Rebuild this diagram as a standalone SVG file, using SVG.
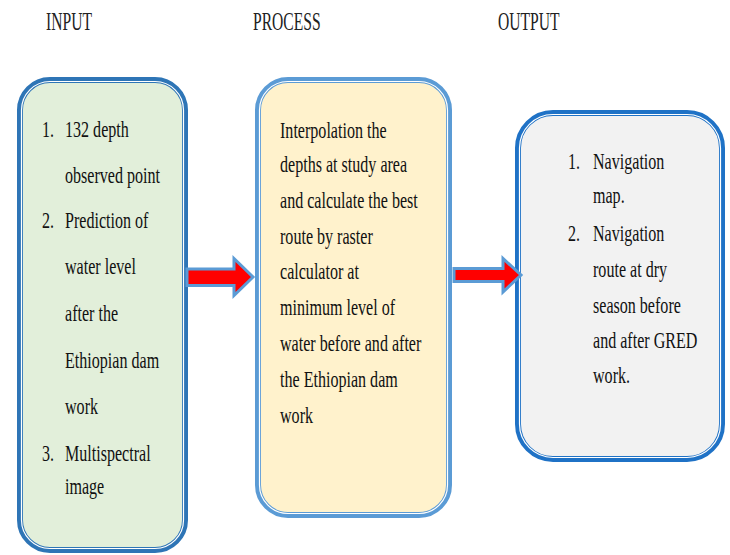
<svg xmlns="http://www.w3.org/2000/svg" width="730" height="555" viewBox="0 0 730 555">
<style>
.t{font-family:"Liberation Serif","Times New Roman",serif;font-size:24px;fill:#111}
.h{font-family:"Liberation Serif","Times New Roman",serif;font-size:26px;fill:#222}
.arr{fill:#FF0000;stroke:#5B9BD5;stroke-width:3;stroke-linejoin:miter}
.in{fill:none;stroke:#fff;stroke-width:1.2}
</style>
<rect width="730" height="555" fill="#fff"/>
<g id="titles">
<text class="h" transform="translate(46,30) scale(0.6,1)">INPUT</text>
<text class="h" transform="translate(253,30) scale(0.6,1)">PROCESS</text>
<text class="h" transform="translate(498,30) scale(0.6,1)">OUTPUT</text>
</g>
<g id="input">
<rect x="20" y="80" width="165" height="470" rx="30" fill="#E2EFDA" stroke="#2E75B6" stroke-width="6"/>
<rect x="21.5" y="81.5" width="162" height="467" rx="28.5" class="in"/>
<g class="t">
<text transform="translate(42,137) scale(0.67,1)">1.</text>
<text transform="translate(65,137) scale(0.67,1)">132 depth</text>
<text transform="translate(65,183) scale(0.67,1)">observed point</text>
<text transform="translate(42,228) scale(0.67,1)">2.</text>
<text transform="translate(65,228) scale(0.67,1)">Prediction of</text>
<text transform="translate(65,274) scale(0.67,1)">water level</text>
<text transform="translate(65,321) scale(0.67,1)">after the</text>
<text transform="translate(65,368) scale(0.67,1)">Ethiopian dam</text>
<text transform="translate(65,414) scale(0.67,1)">work</text>
<text transform="translate(42,461) scale(0.67,1)">3.</text>
<text transform="translate(65,461) scale(0.67,1)">Multispectral</text>
<text transform="translate(65,494) scale(0.67,1)">image</text>
</g>
</g>
<g id="process">
<rect x="258" y="80" width="191" height="435" rx="30" fill="#FFF2CC" stroke="#5B9BD5" stroke-width="6"/>
<rect x="259.5" y="81.5" width="188" height="432" rx="28.5" class="in"/>
<g class="t">
<text transform="translate(280,138) scale(0.67,1)">Interpolation the</text>
<text transform="translate(280,172) scale(0.67,1)">depths at study area</text>
<text transform="translate(280,208) scale(0.67,1)">and calculate the best</text>
<text transform="translate(280,244) scale(0.67,1)">route by raster</text>
<text transform="translate(280,279) scale(0.67,1)">calculator at</text>
<text transform="translate(280,315) scale(0.67,1)">minimum level of</text>
<text transform="translate(280,351) scale(0.67,1)">water before and after</text>
<text transform="translate(280,387) scale(0.67,1)">the Ethiopian dam</text>
<text transform="translate(280,423) scale(0.67,1)">work</text>
</g>
</g>
<g id="output">
<rect x="518" y="113" width="204" height="346" rx="35" fill="#F2F2F2" stroke="#1F72C6" stroke-width="6"/>
<rect x="519.5" y="114.5" width="201" height="343" rx="33.5" class="in"/>
<g class="t">
<text transform="translate(568,169) scale(0.67,1)">1.</text>
<text transform="translate(593,169) scale(0.67,1)">Navigation</text>
<text transform="translate(593,203) scale(0.67,1)">map.</text>
<text transform="translate(568,241) scale(0.67,1)">2.</text>
<text transform="translate(593,241) scale(0.67,1)">Navigation</text>
<text transform="translate(593,277) scale(0.67,1)">route at dry</text>
<text transform="translate(593,313) scale(0.67,1)">season before</text>
<text transform="translate(593,348) scale(0.67,1)">and after GRED</text>
<text transform="translate(593,383) scale(0.67,1)">work.</text>
</g>
</g>
<g id="connectors">
<path class="arr" d="M187,269 H234 V258.5 L253,277 L234,295.5 V285.5 H187 Z"/>
<path class="arr" d="M454,268.5 H503 V258.5 L521,275 L503,292 V281.5 H454 Z"/>
</g>
</svg>
